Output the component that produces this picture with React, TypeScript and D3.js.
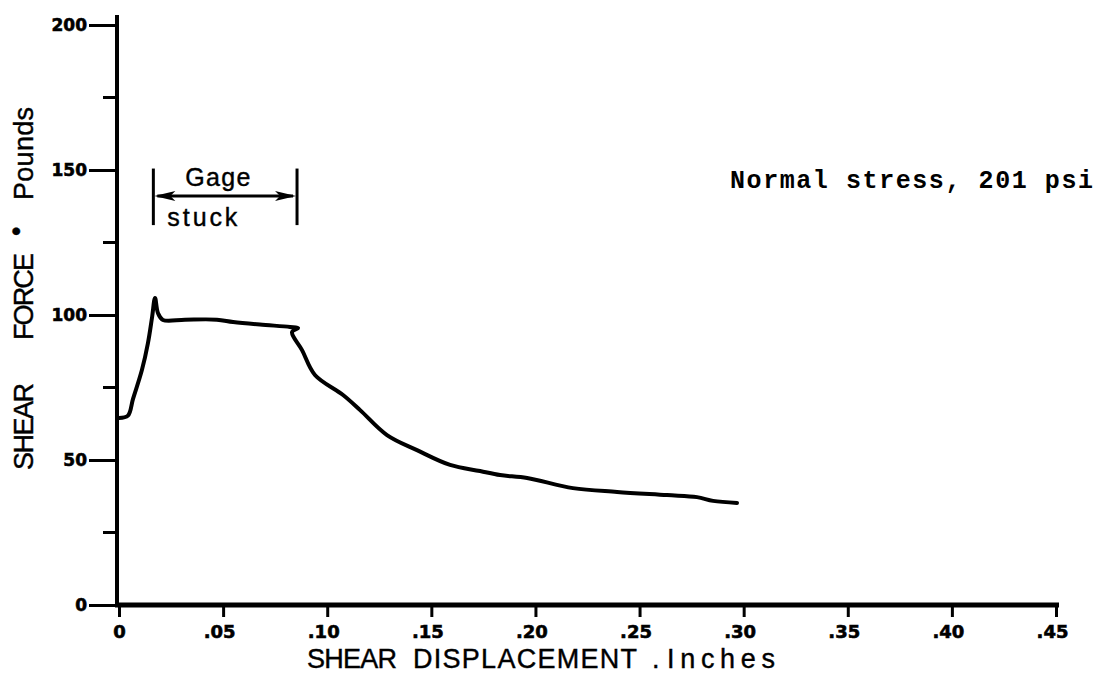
import * as d3 from 'd3';
import { useRef, useEffect } from 'react';

// shear displacement (inches) and shear force (pounds)
const displacement = [
  0, 0.0043, 0.0067, 0.011, 0.0139, 0.0159, 0.0173, 0.0187, 0.0211, 0.0317,
  0.047, 0.0548, 0.0677, 0.0821, 0.086, 0.0831, 0.0879, 0.0941, 0.1076, 0.1158,
  0.1287, 0.1431, 0.159, 0.1734, 0.183, 0.196, 0.218, 0.2392, 0.2632, 0.2776,
  0.2853, 0.2968,
];
const shearForce = [
  64.5, 65.3, 71, 81, 90.3, 99.3, 105.9, 100.7, 98.3, 98.4,
  98.4, 97.6, 96.7, 95.9, 95.5, 94.1, 87.9, 79.3, 72.4, 67.2,
  58.6, 53.4, 48.3, 46.2, 44.8, 43.8, 40.3, 39, 37.9, 37.2,
  35.9, 35.2,
];

const xTicks = [0, 0.05, 0.1, 0.15, 0.2, 0.25, 0.3, 0.35, 0.4, 0.45];
const yMajorTicks = [0, 50, 100, 150, 200];
const yMinorTicks = [25, 75, 125, 175];

// range where the gage was stuck (inches) and where the bracket sits (pounds)
const gageStuck = [0.0165, 0.0855];
const gageBracket = [131, 150.5];
const gageArrowLevel = 141;

const noteText = 'Normal stress, 201 psi';

const W = 1107;
const H = 678;

const ShearChart = () => {
  const svgRef = useRef<SVGSVGElement>(null);

  useEffect(() => {
    if (!svgRef.current) return;
    const svg = d3.select(svgRef.current);
    svg.selectAll('*').remove();

    const x = d3.scaleLinear().domain([0, 0.45]).range([119, 1056]);
    const y = d3.scaleLinear().domain([0, 200]).range([605, 25]);
    const axisX = 117;

    const tickFont = "'DejaVu Sans', Verdana, sans-serif";
    const labelFont = "'Liberation Sans', Arial, Helvetica, sans-serif";

    // axis lines
    svg.append('line')
      .attr('x1', axisX).attr('x2', axisX)
      .attr('y1', 15).attr('y2', y(0) + 2)
      .attr('stroke', '#000').attr('stroke-width', 4);
    svg.append('line')
      .attr('x1', axisX - 2).attr('x2', 1059)
      .attr('y1', y(0)).attr('y2', y(0))
      .attr('stroke', '#000').attr('stroke-width', 5);

    // y ticks
    const yAxisG = svg.append('g').attr('transform', `translate(${axisX},0)`);
    yAxisG.call(
      d3.axisLeft(y).tickValues(yMajorTicks).tickSize(28).tickSizeOuter(0).tickPadding(2)
        .tickFormat((d: any) => String(d))
    );
    yAxisG.select('.domain').remove();
    yAxisG.selectAll('.tick line').attr('stroke', '#000').attr('stroke-width', 3);
    yAxisG.selectAll('.tick text')
      .attr('font-family', tickFont).attr('font-weight', 'bold')
      .attr('font-size', 17).attr('fill', '#000')
      .attr('stroke', '#000').attr('stroke-width', 0.6);

    yAxisG.selectAll('.minor')
      .data(yMinorTicks)
      .join('line')
      .attr('class', 'minor')
      .attr('x1', -14).attr('x2', 0)
      .attr('y1', (d) => y(d)).attr('y2', (d) => y(d))
      .attr('stroke', '#000').attr('stroke-width', 3);

    // x ticks
    const xAxisG = svg.append('g').attr('transform', `translate(0,${y(0)})`);
    xAxisG.call(
      d3.axisBottom(x).tickValues(xTicks).tickSize(12).tickSizeOuter(0).tickPadding(8)
        .tickFormat((d: any) => (d === 0 ? '0' : (+d).toFixed(2).replace(/^0/, '')))
    );
    xAxisG.select('.domain').remove();
    xAxisG.selectAll('.tick line').attr('stroke', '#000').attr('stroke-width', 3);
    xAxisG.selectAll('.tick text')
      .attr('font-family', tickFont).attr('font-weight', 'bold')
      .attr('font-size', 18).attr('fill', '#000')
      .attr('stroke', '#000').attr('stroke-width', 0.6)
      .attr('dx', (d: any) => (d === 0 ? 0 : -4));

    // curve
    const points: [number, number][] = displacement.map((d, i) => [d, shearForce[i]]);
    const line = d3.line<[number, number]>()
      .x((d) => x(d[0]))
      .y((d) => y(d[1]))
      .curve(d3.curveCatmullRom.alpha(0.5));
    svg.append('path')
      .datum(points)
      .attr('d', line)
      .attr('fill', 'none')
      .attr('stroke', '#000')
      .attr('stroke-width', 4)
      .attr('stroke-linejoin', 'round')
      .attr('stroke-linecap', 'round');

    // gage stuck bracket
    const gx0 = x(gageStuck[0]);
    const gx1 = x(gageStuck[1]);
    const ay = y(gageArrowLevel);
    const gage = svg.append('g');
    gageStuck.forEach((g) => {
      gage.append('line')
        .attr('x1', x(g)).attr('x2', x(g))
        .attr('y1', y(gageBracket[1])).attr('y2', y(gageBracket[0]))
        .attr('stroke', '#000').attr('stroke-width', 3);
    });
    gage.append('line')
      .attr('x1', gx0 + 4).attr('x2', gx1 - 4)
      .attr('y1', ay).attr('y2', ay)
      .attr('stroke', '#000').attr('stroke-width', 3);
    gage.append('path')
      .attr('d', `M${gx0 + 1},${ay} L${gx0 + 22},${ay - 5} L${gx0 + 17},${ay} L${gx0 + 22},${ay + 5} Z`)
      .attr('fill', '#000');
    gage.append('path')
      .attr('d', `M${gx1 - 1},${ay} L${gx1 - 22},${ay - 5} L${gx1 - 17},${ay} L${gx1 - 22},${ay + 5} Z`)
      .attr('fill', '#000');
    gage.append('text')
      .attr('x', gx0 + 32).attr('y', ay - 10)
      .attr('font-family', labelFont).attr('font-size', 25)
      .attr('stroke', '#000').attr('stroke-width', 0.4)
      .attr('textLength', 65).attr('lengthAdjust', 'spacing')
      .text('Gage');
    gage.append('text')
      .attr('x', gx0 + 14).attr('y', ay + 30)
      .attr('font-family', labelFont).attr('font-size', 25)
      .attr('stroke', '#000').attr('stroke-width', 0.4)
      .attr('textLength', 70).attr('lengthAdjust', 'spacing')
      .text('stuck');

    // note
    svg.append('text')
      .attr('x', 730).attr('y', 188)
      .attr('font-family', "'Courier New', 'Liberation Mono', monospace")
      .attr('font-weight', 'bold')
      .attr('font-size', 25)
      .attr('textLength', 363).attr('lengthAdjust', 'spacing')
      .text(noteText);

    // x axis title
    const xt = svg.append('text')
      .attr('y', 668)
      .attr('font-family', labelFont).attr('font-size', 27).attr('fill', '#000')
      .attr('stroke', '#000').attr('stroke-width', 0.4);
    xt.append('tspan').attr('x', 307).attr('textLength', 90).attr('lengthAdjust', 'spacing').text('SHEAR');
    xt.append('tspan').attr('x', 413).attr('textLength', 224).attr('lengthAdjust', 'spacing').text('DISPLACEMENT');
    xt.append('tspan').attr('x', 652).text('.');
    xt.append('tspan').attr('x', 667).attr('textLength', 108).attr('lengthAdjust', 'spacing').text('Inches');

    // y axis title (rotated)
    const yt = svg.append('text')
      .attr('transform', 'translate(33,0) rotate(-90)')
      .attr('font-family', labelFont).attr('font-size', 27).attr('fill', '#000')
      .attr('stroke', '#000').attr('stroke-width', 0.4);
    yt.append('tspan').attr('x', -470).attr('textLength', 87).attr('lengthAdjust', 'spacing').text('SHEAR');
    yt.append('tspan').attr('x', -340).attr('textLength', 87).attr('lengthAdjust', 'spacing').text('FORCE');
    yt.append('tspan').attr('x', -236).attr('dy', -8).text('•');
    yt.append('tspan').attr('x', -200).attr('dy', 8).attr('textLength', 93).attr('lengthAdjust', 'spacing').text('Pounds');
  }, []);

  return (
    <svg
      ref={svgRef}
      width={W}
      height={H}
      style={{ position: 'absolute', left: 0, top: 0, background: '#fff' }}
    />
  );
};

export default function App() {
  return <ShearChart />;
}
